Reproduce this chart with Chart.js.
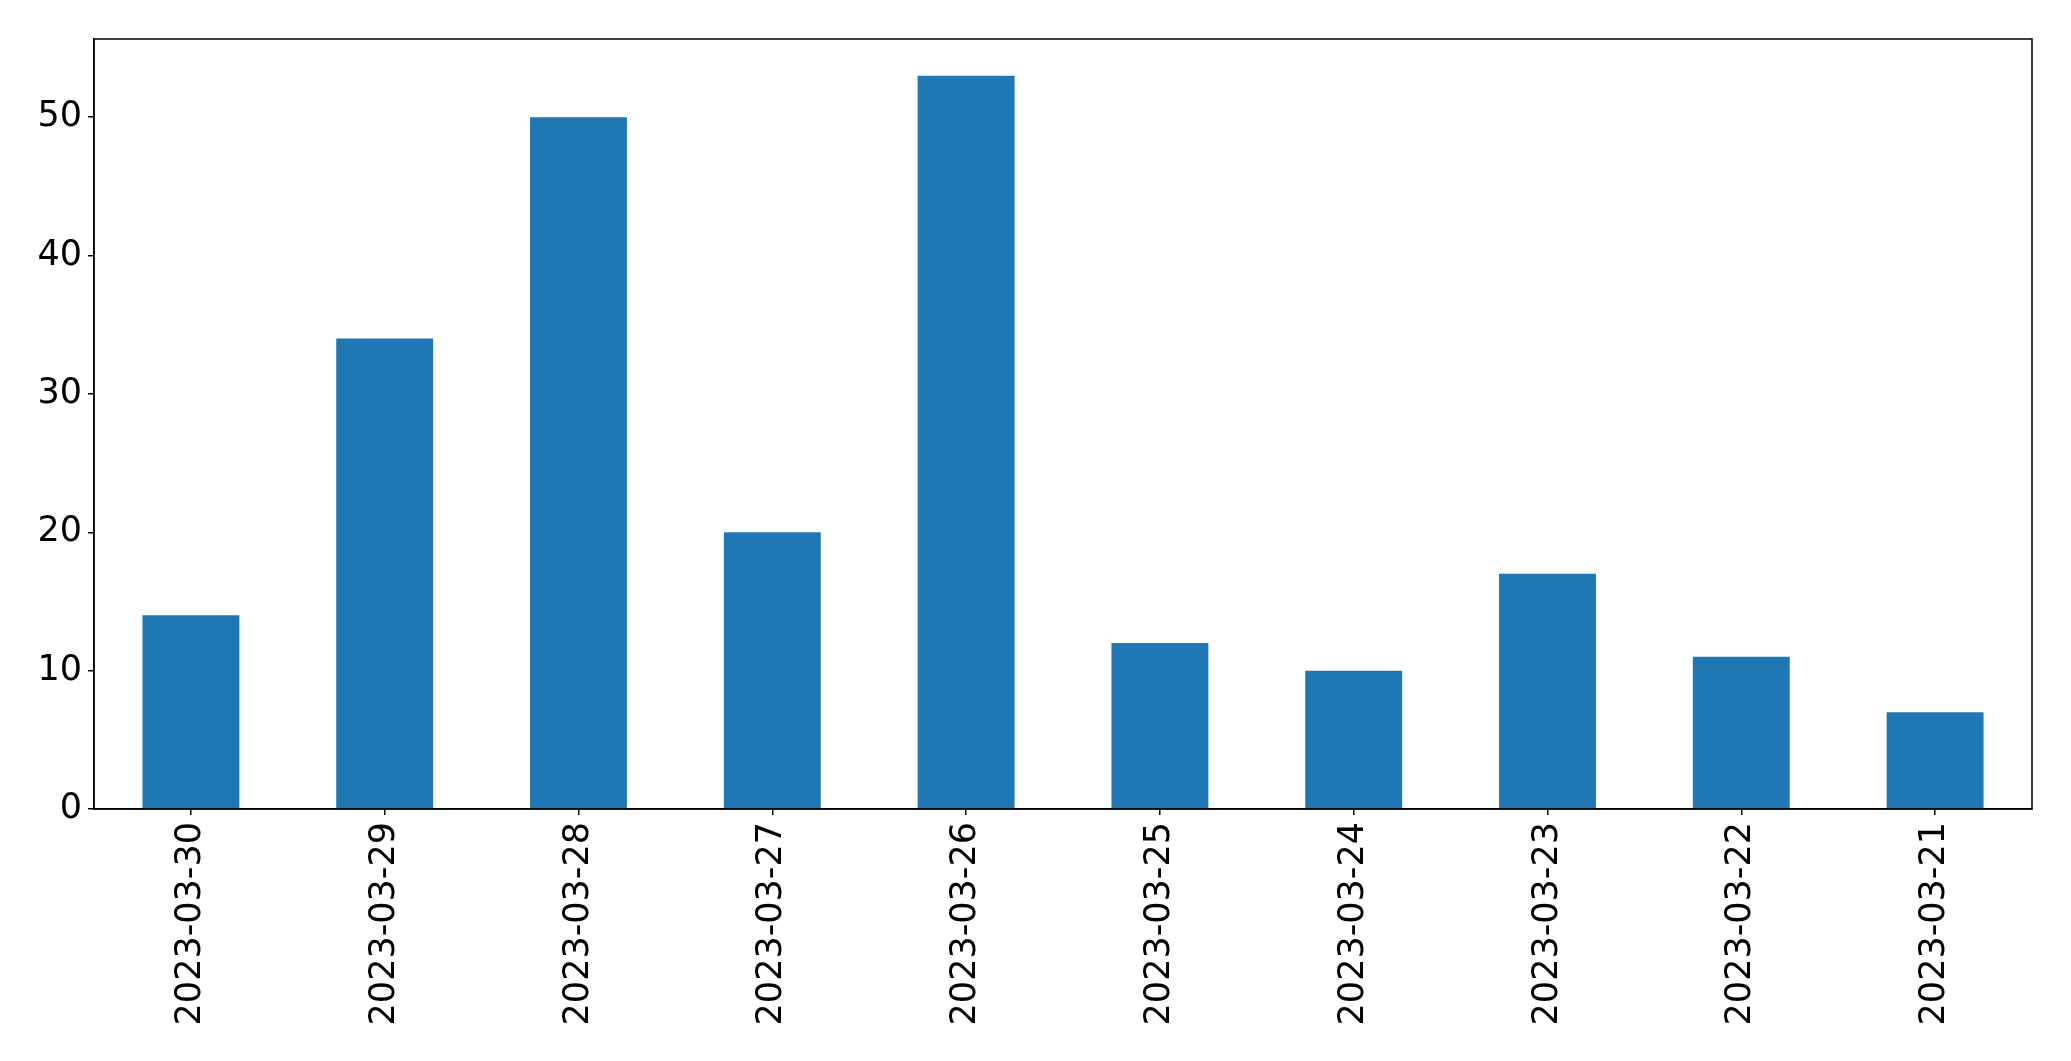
<!DOCTYPE html>
<html>
<head>
<meta charset="utf-8">
<script src="https://cdn.jsdelivr.net/npm/chart.js@4/dist/chart.umd.min.js"></script>
<style>
  html, body { margin: 0; padding: 0; background: #fff; }
  #wrap { width: 2071px; height: 1061px; }
</style>
</head>
<body>
<div id="wrap"><canvas id="grafico"></canvas></div>
<script>
// data
var dates = ["2023-03-30", "2023-03-29", "2023-03-28", "2023-03-27", "2023-03-26",
             "2023-03-25", "2023-03-24", "2023-03-23", "2023-03-22", "2023-03-21"];
var counts = [14, 34, 50, 20, 53, 12, 10, 17, 11, 7];
var yTicks = [0, 10, 20, 30, 40, 50];

// box round the plot, like matplotlib's spines
var frame = {
    id: 'frame',
    afterDraw: function (chart) {
        var a = chart.chartArea, c = chart.ctx;
        c.save();
        c.strokeStyle = '#000';
        c.lineWidth = 1.5;
        c.strokeRect(a.left, a.top, a.right - a.left, a.bottom - a.top);
        c.restore();
    }
};

var fonte = { family: 'DejaVu Sans', size: 35 };

var ctx = document.getElementById('grafico').getContext('2d');
var myChart = new Chart(ctx, {
    type: 'bar',
    data: {
        labels: dates,
        datasets: [{
            data: counts,
            backgroundColor: '#1f77b4',
            borderWidth: 0,
            barPercentage: 0.5,
            categoryPercentage: 1.0
        }]
    },
    options: {
        responsive: true,
        maintainAspectRatio: false,
        animation: false,
        layout: { padding: { top: 39, right: 39, left: 0, bottom: 0 } },
        plugins: { legend: { display: false }, tooltip: { enabled: false } },
        scales: {
            x: {
                offset: true,
                grid: { display: true, drawOnChartArea: false, drawTicks: true, tickLength: 6, color: '#000', lineWidth: 1.5, offset: false },
                border: { display: true, color: '#000', width: 1.5 },
                ticks: { color: '#000', font: fonte, minRotation: 90, maxRotation: 90, autoSkip: false, padding: 7 },
                afterFit: function (scale) { scale.height = 252; }
            },
            y: {
                min: 0,
                max: Math.max.apply(null, counts) * 1.05,
                grid: { display: true, drawOnChartArea: false, drawTicks: true, tickLength: 6, color: '#000', lineWidth: 1.5 },
                border: { display: true, color: '#000', width: 1.5 },
                ticks: {
                    color: '#000', font: fonte, padding: 6, stepSize: 10, includeBounds: false,
                    callback: function (v) { return yTicks.indexOf(v) >= 0 ? v : null; }
                },
                afterFit: function (scale) { scale.width = 94; }
            }
        }
    },
    plugins: [frame]
});
</script>
</body>
</html>
